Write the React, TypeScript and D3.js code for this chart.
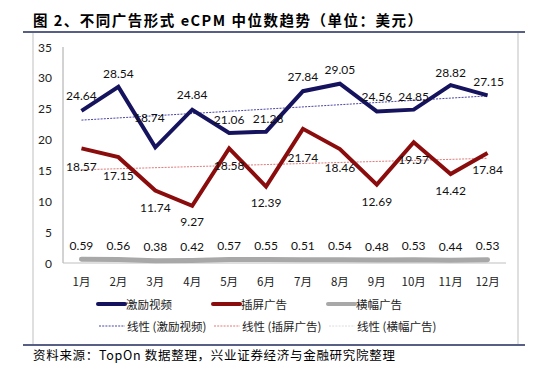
import React from "react";
import * as d3 from "d3";

const months = ["1月", "2月", "3月", "4月", "5月", "6月", "7月", "8月", "9月", "10月", "11月", "12月"];
const incentiveVideo = [24.64, 28.54, 18.74, 24.84, 21.06, 21.28, 27.84, 29.05, 24.56, 24.85, 28.82, 27.15];
const interstitial = [18.57, 17.15, 11.74, 9.27, 18.58, 12.39, 21.74, 18.46, 12.69, 19.57, 14.42, 17.84];
const banner = [0.59, 0.56, 0.38, 0.42, 0.57, 0.55, 0.51, 0.54, 0.48, 0.53, 0.44, 0.53];
const yTicks = [0, 5, 10, 15, 20, 25, 30, 35];
const seriesNames = ["激励视频", "插屏广告", "横幅广告"];
const trendNames = ["线性 (激励视频)", "线性 (插屏广告)", "线性 (横幅广告)"];
const title = "图 2、不同广告形式 eCPM 中位数趋势（单位：美元）";
const source = "资料来源：TopOn 数据整理，兴业证券经济与金融研究院整理";

// label placement offsets (px relative to point)
const blueDy = [-15, -13, -30, -15, -14, -13, -15, -14, -15, -13, -13, -14];
const blueDx = [0, 0, -6, 0, 0, 2, 0, 0, 0, 0, 0, 1];
const redDy = [18, 18, 17, 16, 17, 16, 29, 18, 17, 17, 16, 17];
const grayDy = -14;

const COLORS = ["#16135e", "#8b0c0c", "#a8a8a8"];
const TREND_COLORS = ["#4a46a8", "#e07a7a", "#dcdcdc"];
const NUM_FONT = "Lato, 'Liberation Sans', sans-serif";
const CJK_FONT = "'Noto Sans CJK SC', sans-serif";

function regression(vals: number[]) {
  const n = vals.length;
  const xs = vals.map((_, i) => i + 1);
  const mx = d3.mean(xs)!;
  const my = d3.mean(vals)!;
  let num = 0, den = 0;
  xs.forEach((x, i) => { num += (x - mx) * (vals[i] - my); den += (x - mx) ** 2; });
  const b = num / den;
  const a = my - b * mx;
  return [a + b * 1, a + b * n];
}

export default function App() {
  const x = d3.scaleBand<string>().domain(months).range([63, 506]).padding(0);
  const cx = (m: string) => (x(m) as number) + x.bandwidth() / 2;
  const y = d3.scaleLinear().domain([0, 35]).range([263, 47]);
  const line = d3.line<number>().x((_, i) => cx(months[i])).y((v) => y(v));
  const series = [incentiveVideo, interstitial, banner];
  const widths = [4, 4, 5];
  const trends = series.map(regression);

  const legendX = [98, 213, 328];

  return (
    <svg width={539} height={381} style={{ position: "absolute", left: 0, top: 0, background: "#fff" }}>
      <text x={33} y={26} fontFamily={CJK_FONT} fontWeight={700} fontSize={14.5} letterSpacing={1.5} fill="#000">{title}</text>
      <line x1={23} x2={525} y1={32} y2={32} stroke="#1f2a5c" strokeWidth={1.5} />
      {/* frame */}
      <line x1={33} x2={33} y1={33} y2={344} stroke="#bfbfbf" strokeWidth={1} />
      <line x1={518} x2={518} y1={33} y2={344} stroke="#bfbfbf" strokeWidth={1} />
      <line x1={23} x2={525} y1={345} y2={345} stroke="#1f2a5c" strokeWidth={1.5} />

      {/* axes */}
      <line x1={63} x2={63} y1={y(35)} y2={y(0)} stroke="#a6a6a6" strokeWidth={1} />
      <line x1={63} x2={506} y1={y(0)} y2={y(0)} stroke="#bfbfbf" strokeWidth={1} />
      {yTicks.map((t) => (
        <text key={t} x={52} y={y(t)} textAnchor="end" dominantBaseline="central" fontFamily={NUM_FONT} fontSize={12} fill="#222">{t}</text>
      ))}
      {months.map((m) => (
        <text key={m} x={cx(m)} y={281} textAnchor="middle" dominantBaseline="central" fontFamily={CJK_FONT} fontSize={11.5} fill="#222">{m}</text>
      ))}

      {/* trend lines */}
      {trends.map((t, i) => (
        <line key={i} x1={cx(months[0])} x2={cx(months[11])} y1={y(t[0])} y2={y(t[1])}
          stroke={TREND_COLORS[i]} strokeWidth={1} strokeDasharray="2,1.2" />
      ))}

      {/* series lines */}
      {series.map((s, i) => (
        <path key={i} d={line(s) || ""} fill="none" stroke={COLORS[i]} strokeWidth={widths[i]}
          strokeLinejoin="miter" strokeLinecap={i === 2 ? "round" : "butt"} />
      ))}

      {/* labels */}
      {incentiveVideo.map((v, i) => (
        <text key={"b" + i} x={cx(months[i]) + blueDx[i]} y={y(v) + blueDy[i]} textAnchor="middle" dominantBaseline="central"
          fontFamily={NUM_FONT} fontSize={12} fill="#111">{v.toFixed(2)}</text>
      ))}
      {interstitial.map((v, i) => (
        <text key={"r" + i} x={cx(months[i])} y={y(v) + redDy[i]} textAnchor="middle" dominantBaseline="central"
          fontFamily={NUM_FONT} fontSize={12} fill="#111">{v.toFixed(2)}</text>
      ))}
      {banner.map((v, i) => (
        <text key={"g" + i} x={cx(months[i])} y={y(v) + grayDy} textAnchor="middle" dominantBaseline="central"
          fontFamily={NUM_FONT} fontSize={12} fill="#111">{v.toFixed(2)}</text>
      ))}

      {/* legend */}
      {seriesNames.map((n, i) => (
        <g key={n}>
          <line x1={legendX[i]} x2={legendX[i] + 27} y1={304} y2={304} stroke={COLORS[i]} strokeWidth={4} strokeLinecap="round" />
          <text x={legendX[i] + 28} y={304} dominantBaseline="central" fontFamily={CJK_FONT} fontSize={11.5} fill="#222">{n}</text>
        </g>
      ))}
      {trendNames.map((n, i) => (
        <g key={n}>
          <line x1={legendX[i] + 1} x2={legendX[i] + 27} y1={326} y2={326} stroke={TREND_COLORS[i]} strokeWidth={1} strokeDasharray="2,1.2" />
          <text x={legendX[i] + 29} y={326} dominantBaseline="central" fontFamily={CJK_FONT} fontSize={11.5} fill="#222">{n}</text>
        </g>
      ))}

      <text x={33} y={354} dominantBaseline="central" fontFamily={CJK_FONT} fontSize={12.5} letterSpacing={0.7} fill="#000">{source}</text>
    </svg>
  );
}
